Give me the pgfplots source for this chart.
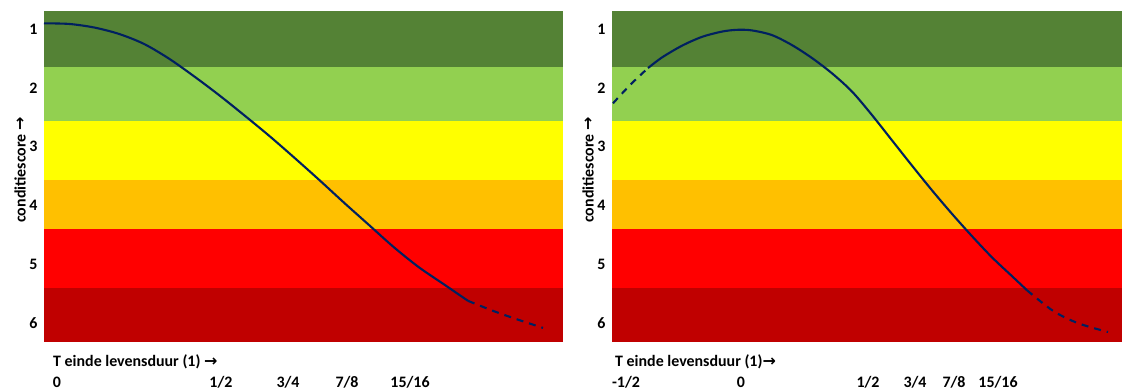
\documentclass[border=0pt]{standalone}
\usepackage{fontspec}
\setmainfont{Carlito}
\newfontfamily\arrowfont{DejaVu Sans}
\usepackage{pgfplots}
\pgfplotsset{compat=1.18}
\definecolor{bDgreen}{HTML}{548235}
\definecolor{bLgreen}{HTML}{92D050}
\definecolor{bYellow}{HTML}{FFFF00}
\definecolor{bOrange}{HTML}{FFC000}
\definecolor{bRed}{HTML}{FF0000}
\definecolor{bDred}{HTML}{C00000}
\definecolor{curve}{HTML}{002060}
\newcommand{\lblfont}{\fontsize{16}{19}\selectfont\bfseries}
\newcommand{\arr}{{\arrowfont\fontsize{16}{18}\selectfont\bfseries →}}
\pgfplotsset{
  panel/.style={
    scale only axis, height=331bp,
    y dir=reverse, ymin=0.69, ymax=6.32,
    ytick={1,2,3,4,5,6}, yticklabels={1,2,3,4,5,6},
    major tick length=0pt,
    axis line style={draw=none},
    tick label style={font=\lblfont},
    /pgf/number format/assume math mode=true,
    xticklabel style={anchor=base, yshift=-45bp},
    yticklabel style={xshift=-3bp},
    label style={font=\lblfont},
    clip=false,
  },
  band/.style={draw=none, fill=#1, forget plot},
  solid curve/.style={color=curve, line width=2.1bp, smooth, tension=0.5},
  dashed curve/.style={color=curve, line width=2.1bp, dash pattern=on 7bp off 6bp, smooth, tension=0.5},
}
\begin{document}
\begin{tikzpicture}
\useasboundingbox (0,0) rectangle (1123bp,389bp);
% ---------- left panel ----------
\begin{axis}[panel, at={(44bp,47bp)}, anchor=south west, width=519bp,
  xmin=0, xmax=519,
  xtick={13,177,244,303,366}, xticklabels={0,1/2,3/4,7/8,15/16},
  ylabel={conditiescore \arr},
  ylabel style={at={(axis description cs:-0.046,0.52)}, anchor=center},
]
\addplot[band=bDgreen] coordinates {(0,0.69) (519,0.69) (519,1.65) (0,1.65)} -- cycle;
\addplot[band=bLgreen] coordinates {(0,1.65) (519,1.65) (519,2.56) (0,2.56)} -- cycle;
\addplot[band=bYellow] coordinates {(0,2.56) (519,2.56) (519,3.57) (0,3.57)} -- cycle;
\addplot[band=bOrange] coordinates {(0,3.57) (519,3.57) (519,4.40) (0,4.40)} -- cycle;
\addplot[band=bRed] coordinates {(0,4.40) (519,4.40) (519,5.40) (0,5.40)} -- cycle;
\addplot[band=bDred] coordinates {(0,5.40) (519,5.40) (519,6.32) (0,6.32)} -- cycle;
\addplot[solid curve] coordinates {
 (0,0.90) (25,0.91) (50,0.97) (75,1.08) (100,1.25) (125,1.50) (150,1.80)
 (175,2.12) (200,2.46) (225,2.81) (250,3.18) (275,3.56) (300,3.95)
 (325,4.33) (350,4.71) (375,5.05) (400,5.34) (424,5.62)};
\addplot[dashed curve] coordinates {
 (424,5.62) (449,5.79) (474,5.94) (499,6.08)};
\node[anchor=base west, inner sep=0pt, font=\lblfont] at (rel axis cs:0,0)
  [xshift=9bp, yshift=-24bp] {T einde levensduur (1) \arr};
\end{axis}
% ---------- right panel ----------
\begin{axis}[panel, at={(612bp,47bp)}, anchor=south west, width=510bp,
  xmin=0, xmax=510,
  xtick={14,129,256,303,342,386}, xticklabels={-1/2,0,1/2,3/4,7/8,15/16},
  ylabel={conditiescore \arr},
  ylabel style={at={(axis description cs:-0.047,0.52)}, anchor=center},
]
\addplot[band=bDgreen] coordinates {(0,0.69) (510,0.69) (510,1.65) (0,1.65)} -- cycle;
\addplot[band=bLgreen] coordinates {(0,1.65) (510,1.65) (510,2.56) (0,2.56)} -- cycle;
\addplot[band=bYellow] coordinates {(0,2.56) (510,2.56) (510,3.57) (0,3.57)} -- cycle;
\addplot[band=bOrange] coordinates {(0,3.57) (510,3.57) (510,4.40) (0,4.40)} -- cycle;
\addplot[band=bRed] coordinates {(0,4.40) (510,4.40) (510,5.40) (0,5.40)} -- cycle;
\addplot[band=bDred] coordinates {(0,5.40) (510,5.40) (510,6.32) (0,6.32)} -- cycle;
\addplot[dashed curve] coordinates {
 (1,2.26) (18,1.95) (36,1.66)};
\addplot[solid curve] coordinates {
 (36,1.66) (50,1.48) (70,1.28) (90,1.13) (110,1.04) (125,1.01) (140,1.02)
 (160,1.10) (180,1.27) (200,1.49) (220,1.75) (240,2.06) (260,2.46)
 (280,2.89) (300,3.32) (320,3.74) (340,4.14) (360,4.52) (380,4.88)
 (400,5.20) (415,5.44)};
\addplot[dashed curve] coordinates {
 (415,5.44) (441,5.79) (466,6.00) (496,6.15)};
\node[anchor=base west, inner sep=0pt, font=\lblfont] at (rel axis cs:0,0)
  [xshift=3bp, yshift=-24bp] {T einde levensduur (1)\arr};
\end{axis}
\end{tikzpicture}
\end{document}
